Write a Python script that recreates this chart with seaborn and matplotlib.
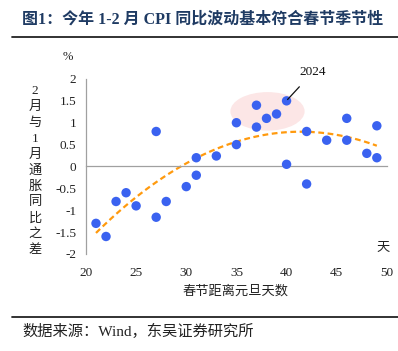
import matplotlib
matplotlib.use("Agg")
import matplotlib.pyplot as plt
from matplotlib.patches import Ellipse
import seaborn as sns
import pandas as pd
import numpy as np

days = [21, 22, 23, 24, 25, 27, 27, 28, 30, 31, 31, 33, 35, 35, 37, 37, 38, 39, 40, 40,
        42, 42, 44, 46, 46, 48, 49, 49]
cpi_diff = [-1.3, -1.6, -0.8, -0.6, -0.9, 0.8, -1.16, -0.8, -0.46, 0.2, -0.2, 0.24, 1.0, 0.5,
            1.4, 0.9, 1.1, 1.2, 1.5, 0.05, 0.8, -0.4, 0.6, 1.1, 0.6, 0.3, 0.93, 0.2]
xticks = [20, 25, 30, 35, 40, 45, 50]
yticks = [-2, -1.5, -1, -0.5, 0, 0.5, 1, 1.5, 2]
ytick_labels = ["-2", "-1.5", "-1", "-0.5", "0", "0.5", "1", "1.5", "2"]
title = "图1：今年 1-2 月 CPI 同比波动基本符合春节季节性"
ylabel_chars = ["2", "月", "与", "1", "月", "通", "胀", "同", "比", "之", "差"]
xlabel = "春节距离元旦天数"
source = "数据来源：Wind，东吴证券研究所"

df = pd.DataFrame({"days": days, "diff": cpi_diff})

sns.set_theme(style="white")
plt.rcParams["font.family"] = ["Liberation Serif", "Noto Sans CJK SC", "DejaVu Sans"]

fig = plt.figure(figsize=(3.98, 3.51), dpi=100)
ax = fig.add_axes([0.216, 0.2764, 0.756, 0.4986])

ax.add_patch(Ellipse((38.1, 1.26), 7.4, 0.88, facecolor="#FCE6E6", edgecolor="none", zorder=0.5))

sns.regplot(data=df, x="days", y="diff", order=2, ci=None, scatter=False, ax=ax,
            line_kws=dict(color="#FF9A0E", ls=(0, (2.6, 1.6)), lw=1.6, zorder=2))
sns.scatterplot(data=df, x="days", y="diff", ax=ax, color="#3A62F0", s=46,
                edgecolor="none", zorder=3, legend=False)

ax.set_xlim(20, 50)
ax.set_ylim(-2, 2)
ax.set_xticks(xticks)
ax.set_yticks(yticks)
ax.set_yticklabels(ytick_labels)
ax.set_xlabel("")
ax.set_ylabel("")

for s in ["top", "right"]:
    ax.spines[s].set_visible(False)
ax.spines["bottom"].set_position(("data", 0))
ax.spines["bottom"].set_color("#A0A0A0")
ax.spines["left"].set_color("#A0A0A0")
ax.spines["bottom"].set_linewidth(0.9)
ax.spines["left"].set_linewidth(0.9)
ax.tick_params(axis="x", direction="inout", length=5, width=0.9, color="#A0A0A0",
               labelsize=9.5, labelcolor="#222222", pad=70)
ax.tick_params(axis="y", direction="out", length=3, width=0.9, color="#A0A0A0",
               labelsize=9.5, labelcolor="#222222", pad=4)

ax.annotate("2024", xy=(40.1, 1.53), xytext=(42.6, 2.15), textcoords="data",
            ha="center", va="center", fontsize=9.5, color="#111111",
            arrowprops=dict(arrowstyle="-", color="#111111", lw=0.9,
                            shrinkA=5, shrinkB=0), annotation_clip=False)

fig.text(68 / 398, 1 - 57 / 351, "%", fontsize=9, ha="center", va="center", color="#222222")
fig.text(383 / 398, 1 - 248 / 351, "天", fontsize=9.5, ha="center", va="center", color="#222222")
fig.text(236 / 398, 1 - 291 / 351, xlabel, fontsize=9.5, ha="center", va="center", color="#222222")

for i, ch in enumerate(ylabel_chars):
    fig.text(35 / 398, 1 - (91 + i * 15.9) / 351, ch, fontsize=9.5, ha="center", va="center",
             color="#222222")

fig.text(22 / 398, 1 - 20 / 351, title, fontsize=11.5, fontweight="bold", ha="left",
         va="center", color="#1F3B63")
fig.add_artist(plt.Line2D([12 / 398, 1], [1 - 37 / 351, 1 - 37 / 351], color="#222222", lw=1.3))
fig.add_artist(plt.Line2D([12 / 398, 1], [1 - 317 / 351, 1 - 317 / 351], color="#222222", lw=1.3))
fig.text(22 / 398, 1 - 331 / 351, source, fontsize=11, ha="left", va="center", color="#222222")

fig.savefig("out.png", dpi=100)
